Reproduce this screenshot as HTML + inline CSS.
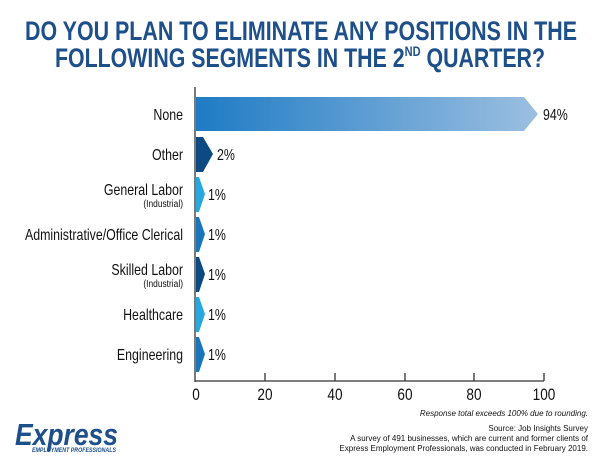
<!DOCTYPE html>
<html><head><style>body{margin:0;background:#fff}svg{display:block}</style></head><body>
<svg width="600" height="459" xmlns="http://www.w3.org/2000/svg" font-family="'Liberation Sans Narrow','Liberation Sans',sans-serif">
<defs><linearGradient id="g" x1="0" x2="1"><stop offset="0" stop-color="#1f7bc4"/><stop offset="1" stop-color="#9cbfe0"/></linearGradient></defs>
<g fill="#1d4f8a" font-weight="bold" font-size="27">
<text x="25" y="40" textLength="552" lengthAdjust="spacingAndGlyphs">DO YOU PLAN TO ELIMINATE ANY POSITIONS IN THE</text>
<text x="55" y="67" textLength="490" lengthAdjust="spacingAndGlyphs">FOLLOWING SEGMENTS IN THE 2<tspan font-size="14" dy="-11">ND</tspan><tspan dy="11"> QUARTER?</tspan></text>
</g>
<polygon points="196,97 524,97 538,114 524,131 196,131" fill="url(#g)"/>
<polygon points="196,137 203,137 213,154 203,172 196,172" fill="#0d4a82"/>
<polygon points="196,177 199,177 205,194 199,212 196,212" fill="#29a8e0"/>
<polygon points="196,217 199,217 205,234 199,252 196,252" fill="#1a75bb"/>
<polygon points="196,257 199,257 205,274 199,292 196,292" fill="#0d4a82"/>
<polygon points="196,297 199,297 205,314 199,332 196,332" fill="#29a8e0"/>
<polygon points="196,337 199,337 205,354 199,372 196,372" fill="#1a75bb"/>
<g stroke="#333" stroke-width="1.3"><line x1="195" y1="87" x2="195" y2="382"/><line x1="195" y1="381" x2="544" y2="381"/>
<line x1="265" y1="373" x2="265" y2="381"/><line x1="335" y1="373" x2="335" y2="381"/><line x1="405" y1="373" x2="405" y2="381"/><line x1="474" y1="373" x2="474" y2="381"/><line x1="544" y1="373" x2="544" y2="381"/></g>
<g transform="scale(0.8,1)">
<g font-size="15.5" fill="#111" text-anchor="end">
<text x="228.75" y="120">None</text><text x="228.75" y="160">Other</text>
<text x="228.75" y="195">General Labor</text><text x="228.75" y="207" font-size="10.5">(Industrial)</text>
<text x="228.75" y="240">Administrative/Office Clerical</text>
<text x="228.75" y="275">Skilled Labor</text><text x="228.75" y="287" font-size="10.5">(Industrial)</text>
<text x="228.75" y="320">Healthcare</text><text x="228.75" y="360">Engineering</text>
</g>
<g font-size="15.5" fill="#111"><text x="678.75" y="120">94%</text><text x="271.25" y="160">2%</text><text x="260" y="200">1%</text><text x="260" y="240">1%</text><text x="260" y="280">1%</text><text x="260" y="320">1%</text><text x="260" y="360">1%</text></g>
<g font-size="17" fill="#111" text-anchor="middle"><text x="245" y="400">0</text><text x="331.25" y="400">20</text><text x="418.75" y="400">40</text><text x="506.25" y="400">60</text><text x="592.5" y="400">80</text><text x="680" y="400">100</text></g>
</g>
<g font-family="'Liberation Sans',sans-serif" font-size="8" fill="#111" text-anchor="end">
<text x="588" y="416" font-style="italic">Response total exceeds 100% due to rounding.</text>
<text x="588" y="431">Source: Job Insights Survey</text>
<text x="588" y="441">A survey of 491 businesses, which are current and former clients of</text>
<text x="588" y="451">Express Employment Professionals, was conducted in February 2019.</text>
</g>
<text x="15" y="445" font-family="'Liberation Sans',sans-serif" font-weight="bold" font-style="italic" font-size="31" fill="#1d4f8a" textLength="103" lengthAdjust="spacingAndGlyphs">Express</text>
<text x="32" y="452" font-family="'Liberation Sans',sans-serif" font-weight="bold" font-style="italic" font-size="6" fill="#1d4f8a" textLength="84" lengthAdjust="spacingAndGlyphs">EMPLOYMENT PROFESSIONALS</text>
</svg>
</body></html>
